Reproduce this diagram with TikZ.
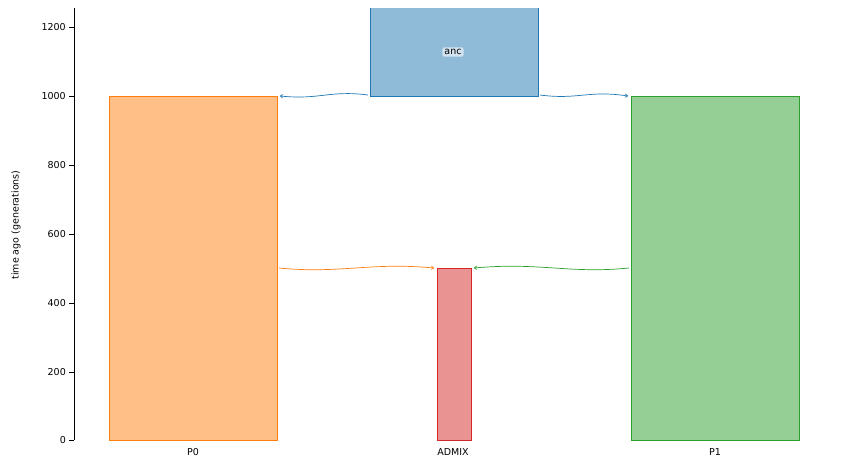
\documentclass[tikz,border=0pt]{standalone}
\usepackage{fontspec}
\setmainfont{DejaVu Sans}
\usetikzlibrary{arrows.meta}
\definecolor{tblue}{HTML}{1F77B4}
\definecolor{torange}{HTML}{FF7F0E}
\definecolor{tgreen}{HTML}{2CA02C}
\definecolor{tred}{HTML}{D62728}
\begin{document}
\begin{tikzpicture}[x=1pt,y=-1pt,font=\fontsize{9.5}{11}\selectfont,
  deme/.style={draw=#1,fill=#1!50!white,line width=0.8pt},
  mig/.style={draw=#1,line width=0.7pt,-{To[length=3pt,width=4pt]}},
  tick/.style={line width=0.7pt}]
\useasboundingbox (0,0) rectangle (843,469);
\fill[white] (0,0) rectangle (843,469);
\begin{scope}
\clip (74,8) rectangle (843,469);
\path[deme=tblue] (370,96) rectangle (538,-20);
\end{scope}
\node (anc) at (453,52) [fill=white,fill opacity=0.6,text opacity=1,rounded corners=2pt,inner sep=2pt] {anc};
\path[deme=torange] (109,440) rectangle (277,96);
\path[deme=tgreen] (631,440) rectangle (799,96);
\path[deme=tred] (437,440) rectangle (471,268);
\coordinate (a1) at (368,95); \coordinate (p0t) at (280,96);
\coordinate (a2) at (540,95); \coordinate (p1t) at (628,96);
\coordinate (o1) at (279,268); \coordinate (adl) at (434,268);
\coordinate (g1) at (629,268); \coordinate (adr) at (474,268);
\draw[mig=tblue] (a1) .. controls (330,90) and (320,100) .. (p0t);
\draw[mig=tblue] (a2) .. controls (578,100) and (588,90) .. (p1t);
\draw[mig=torange] (o1) .. controls (340,274) and (370,262) .. (adl);
\draw[mig=tgreen] (g1) .. controls (570,274) and (540,262) .. (adr);
% axis
\draw[line width=0.8pt] (74,8) -- (74,440);
\foreach \v/\y in {0/440,200/372,400/303,600/234,800/165,1000/96,1200/27}{
  \draw[tick] (69,\y) -- (74,\y);
  \node[anchor=east,inner sep=0pt] at (66,\y) {\v};
}
\node[rotate=90] at (16,225) {time ago (generations)};
\node at (193,452) {P0};
\node at (453,452) {ADMIX};
\node at (715,452) {P1};
\end{tikzpicture}
\end{document}
